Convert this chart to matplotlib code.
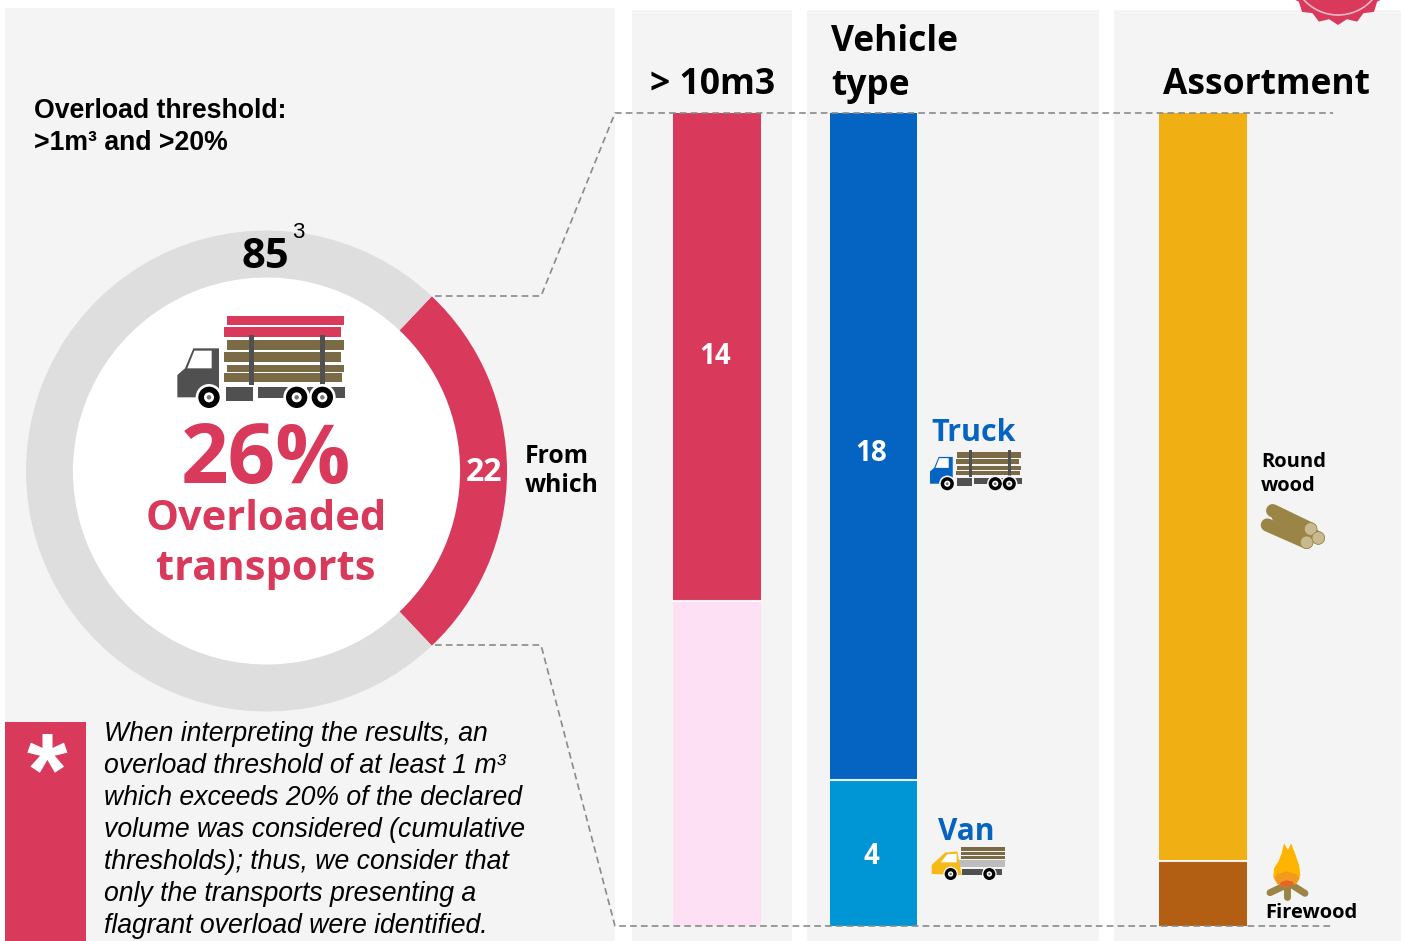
import matplotlib
matplotlib.use("Agg")
import matplotlib.pyplot as plt
from matplotlib.patches import Polygon, Circle, Rectangle
import numpy as np

W, H = 1405, 941
donut_labels = ["Overloaded", "Other"]
donut_values = [22, 63]
total_label = "85"
over_10m3 = [14, 9.3]
vehicle_type = [18, 3.95]
vehicle_labels = ["18", "4"]
assortment = [20.25, 1.75]

RED = "#d9395a"; PANEL = "#f4f4f4"; GREY = "#dedede"
BLUE = "#0563c1"; LBLUE = "#0096d6"; GOLD = "#f0b014"; BROWN = "#b25f14"; PALE = "#fde0f3"
OS = "Open Sans"; AR = "Liberation Sans"
WOOD = "#7a6a45"; DARK = "#505050"

fig = plt.figure(figsize=(W/100, H/100), dpi=100, facecolor="white")

def overlay(z):
    a = fig.add_axes([0, 0, 1, 1], zorder=z)
    a.set_xlim(0, W); a.set_ylim(H, 0); a.axis("off"); a.patch.set_alpha(0)
    return a

def px_axes(x0, y0, x1, y1, z):
    a = fig.add_axes([x0/W, 1-y1/H, (x1-x0)/W, (y1-y0)/H], zorder=z)
    a.axis("off"); a.patch.set_alpha(0)
    return a

bg = overlay(0)
fg = overlay(5)

# panels
for x0, x1, y0 in [(5, 615, 8), (632, 792, 10), (807, 1099, 10), (1114, 1401, 10)]:
    bg.add_patch(Rectangle((x0, y0), x1-x0, H-y0, fc=PANEL, ec="none"))

# badge
n = 18
ang = np.linspace(0, 2*np.pi, 2*n, endpoint=False) + np.pi/2
rad = np.where(np.arange(2*n) % 2 == 0, 56, 51)
bg.add_patch(Polygon(np.c_[1338+rad*np.cos(ang), -31+rad*np.sin(ang)], fc=RED, ec="none"))
bg.add_patch(Circle((1338, -31), 46, fc="none", ec="#f2b8c4", lw=1.2))

# donut
da = px_axes(26, 230, 507, 712, 1)
half = 360*donut_values[0]/sum(donut_values)/2
da.add_patch(Circle((0, 0), 194/241, fc="white", ec="none", zorder=0))
da.pie(donut_values, colors=[RED, GREY], startangle=-half, counterclock=True, radius=1,
       wedgeprops=dict(width=1-194/241, ec="none"))
da.set_xlim(-1, 1); da.set_ylim(-1, 1)
fg.text(484, 472, str(donut_values[0]), color="white", fontsize=23, fontweight="bold", family=OS, ha="center", va="center")

# stacked bars
def stacked(x0, x1, vals, cols, labels, nudges):
    a = px_axes(x0, 113, x1, 926, 2)
    bottom = 0
    for v, c, l, d in zip(vals, cols, labels, nudges):
        a.bar(0, v, bottom=bottom, width=1, color=c, ec="none")
        if l:
            a.annotate(l, (0, bottom+v/2), xytext=(-1.5, -d*0.72), textcoords="offset points", color="white",
                       fontsize=20, fontweight="bold", family=OS, ha="center", va="center")
        bottom += v
        if bottom < sum(vals):
            a.axhline(bottom, color="white", lw=1.5, alpha=.9)
    a.set_xlim(-.5, .5); a.set_ylim(sum(vals), 0)

stacked(673, 761, over_10m3, [RED, PALE], [str(over_10m3[0]), ""], [-1, 0])
stacked(830, 917, vehicle_type, [BLUE, LBLUE], vehicle_labels, [7, 4])
stacked(1159, 1247, assortment, [GOLD, BROWN], ["", ""], [0, 0])

# dashed connectors
dash = dict(color="#8a8a8a", lw=1.2, dashes=(4, 2.5))
fg.plot([435, 541, 615, 1333], [296, 296, 113, 113], **dash)
fg.plot([435, 541, 615, 1333], [645, 645, 926, 926], **dash)

# headings and texts
def T(x, y, s, size, color="black", weight="bold", fam=OS, ha="left", style="normal"):
    fg.text(x, y, s, fontsize=size, color=color, fontweight=weight, family=fam, ha=ha, va="center", style=style)

T(650, 85, "> 10m3", 25.6)
T(831, 42, "Vehicle", 25.5)
T(831, 86, "type", 25.5)
T(1163, 85, "Assortment", 25.5)
T(34, 111, "Overload threshold:", 19.2, fam=AR)
T(34, 143, ">1m³ and >20%", 19.2, fam=AR)
T(265, 257, total_label, 30, ha="center")
T(298, 232, "3", 16, weight="normal", fam=AR, ha="center")
T(266, 461, "26%", 60, color=RED, ha="center")
T(266, 519, "Overloaded", 30, color=RED, ha="center")
T(266, 570, "transports", 30, color=RED, ha="center")
T(525, 456, "From", 17.8)
T(525, 485, "which", 17.8)
T(931, 433, "Truck", 22)
fg.texts[-1].set_color(BLUE)
T(938, 832, "Van", 21.5, color=BLUE)
T(1261, 462, "Round", 14.5)
T(1261, 486, "wood", 14.5)
T(1265, 913, "Firewood", 14.5)

# note
fg.add_patch(Rectangle((5, 722), 81, 219, fc=RED, ec="none"))
fg.text(47, 779, "*", color="white", fontsize=75, fontweight="bold", family=AR, ha="center", va="center")
note = ["When interpreting the results, an",
        "overload threshold of at least 1 m³",
        "which exceeds 20% of the declared",
        "volume was considered (cumulative",
        "thresholds); thus, we consider that",
        "only the transports presenting a",
        "flagrant overload were identified."]
for i, line in enumerate(note):
    T(104, 734+32*i, line, 19.15, weight="normal", fam=AR, style="italic")

# icons
def rect(x0, y0, x1, y1, c, f, z=6):
    xy = f(np.array([[x0, y0], [x1, y0], [x1, y1], [x0, y1]], float))
    fg.add_patch(Polygon(xy, fc=c, ec="none", zorder=z))

def wheel(cx, cy, r, ri, f, s, halo, halo_c):
    (x, y), = f(np.array([[cx, cy]], float))
    fg.add_patch(Circle((x, y), halo*s, fc=halo_c, ec="none", zorder=7))
    fg.add_patch(Circle((x, y), r*s, fc="black", ec="none", zorder=8))
    fg.add_patch(Circle((x, y), ri*s, fc="white", ec="none", zorder=9))
    fg.add_patch(Circle((x, y), ri*.45*s, fc="#777777", ec="none", zorder=10))

def truck(ox, oy, s, cab, halo_c, red_planks=True, wr=32):
    f = lambda p: p*s + np.array([ox, oy])
    if red_planks:
        rect(232, 77, 582, 105, RED, f)
        rect(223, 112, 572, 142, RED, f)
    for a, b, c, d in [(232, 150, 582, 180), (223, 186, 572, 215), (232, 225, 582, 245), (223, 250, 575, 275)]:
        rect(a, b, c, d, WOOD, f)
    rect(298, 135, 311, 285, DARK, f, 7)
    rect(511, 135, 525, 285, DARK, f, 7)
    fg.add_patch(Polygon(f(np.array([[82, 322], [82, 255], [105, 235], [130, 175], [207, 175], [207, 322]], float)), fc=cab, ec="none", zorder=6))
    fg.add_patch(Polygon(f(np.array([[112, 235], [133, 182], [185, 182], [185, 235]], float)), fc="white", ec="none", zorder=7))
    for a, b, c, d in [(228, 292, 310, 332), (323, 292, 415, 325), (470, 292, 585, 325)]:
        rect(a, b, c, d, DARK, f)
    for cx in (177, 440, 517):
        wheel(cx, 322, wr, wr*.47, f, s, wr*1.25, halo_c)

truck(150, 290, 1/3, DARK, "white")
truck(915, 425, 0.547/3, BLUE, PANEL, red_planks=False, wr=36)

# van
vf = lambda p: p/3 + np.array([920, 810])
for a, b in [(112, 122), (125, 135), (137, 148)]:
    rect(122, a, 255, b, WOOD, vf)
rect(115, 150, 255, 172, "#bdbdbd", vf)
rect(125, 178, 190, 195, DARK, vf)
rect(225, 178, 245, 195, DARK, vf)
fg.add_patch(Polygon(vf(np.array([[35, 192], [35, 165], [75, 128], [112, 124], [125, 195]], float)), fc="#f7b916", ec="none", zorder=6))
fg.add_patch(Polygon(vf(np.array([[62, 157], [82, 133], [110, 131], [110, 157]], float)), fc="white", ec="none", zorder=7))
wheel(92, 192, 18, 8, vf, 1/3, 22, PANEL)
wheel(208, 192, 18, 8, vf, 1/3, 22, PANEL)

# logs
lf = lambda p: p/3 + np.array([920, 410])
for (a, b), (c, d) in [((1058, 302), (1172, 357)), ((1042, 345), (1160, 397)), ((1075, 320), (1195, 384))]:
    (x0, y0), (x1, y1) = lf(np.array([[a, b], [c, d]], float))
    fg.plot([x0, x1], [y0, y1], color="#9a8446", lw=9.5, solid_capstyle="round", zorder=6)
for cx, cy in [(1172, 357), (1195, 384), (1160, 397)]:
    (x, y), = lf(np.array([[cx, cy]], float))
    fg.add_patch(Circle((x, y), 6.3, fc="#c9b98f", ec="#9a8446", lw=.5, zorder=7))

# campfire
ff = lambda p: p/3 + np.array([920, 810])
for (a, b), (c, d) in [((1050, 248), (1105, 222)), ((1155, 250), (1105, 218)), ((1100, 262), (1100, 225))]:
    (x0, y0), (x1, y1) = ff(np.array([[a, b], [c, d]], float))
    fg.plot([x0, x1], [y0, y1], color="#9a8446", lw=5, solid_capstyle="round", zorder=6)
fl = ff(np.array([[1098, 232], [1072, 222], [1060, 200], [1062, 175], [1075, 155], [1085, 130], [1092, 100],
                  [1104, 120], [1113, 100], [1125, 130], [1137, 165], [1141, 195], [1132, 218]], float))
fg.add_patch(Polygon(fl, fc="#ffb400", ec="none", zorder=7))
fl2 = ff(np.array([[1098, 232], [1072, 222], [1063, 205], [1072, 192], [1100, 184], [1128, 192], [1139, 205], [1128, 222]], float))
fg.add_patch(Polygon(fl2, fc="#f39a1e", ec="none", zorder=8))
fl3 = ff(np.array([[1098, 232], [1078, 224], [1085, 215], [1100, 211], [1118, 215], [1122, 224]], float))
fg.add_patch(Polygon(fl3, fc="#e2662a", ec="none", zorder=9))

fig.savefig("out.png", dpi=100)
